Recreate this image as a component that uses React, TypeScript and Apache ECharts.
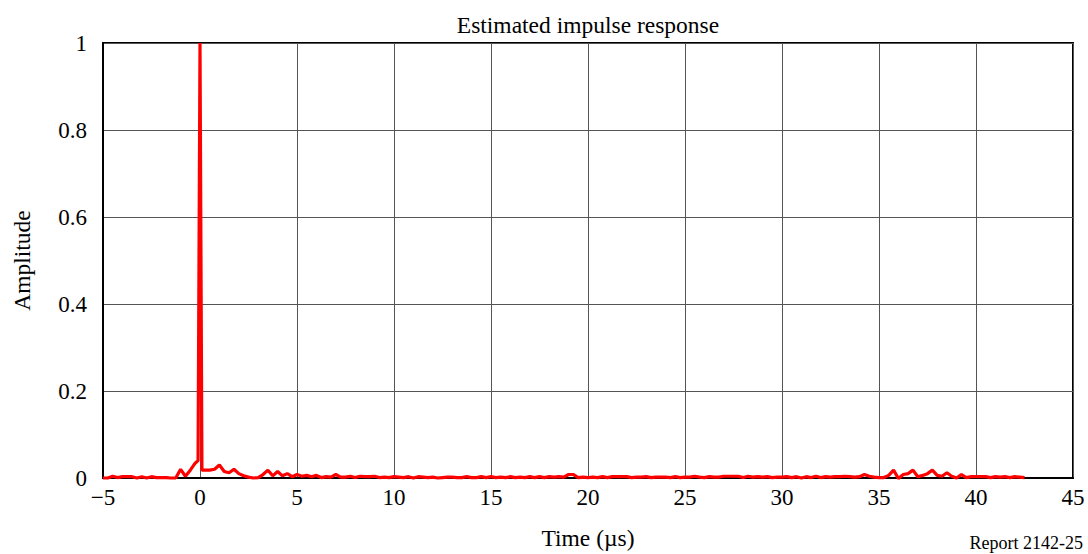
import React, { useEffect, useRef } from "react";
import * as echarts from "echarts";

const chartTitle = "Estimated impulse response";
const xAxisName = "Time (\u00b5s)";
const yAxisName = "Amplitude";
const reportLabel = "Report 2142-25";

const xTicks = [-5, 0, 5, 10, 15, 20, 25, 30, 35, 40, 45];
const yTicks = [0, 0.2, 0.4, 0.6, 0.8, 1];

// regular record, sampled every 0.25 µs starting at -5 µs
const recordStart = -5;
const recordStep = 0.25;
const amplitude = [
  // -5 .. -0.25
  0, 0, 0.004, 0.001, 0.003, 0.003, 0.003, 0, 0.003, 0, 0.003, 0.001, 0.001, 0.001, 0, 0, 0.02, 0.004, 0.018, 0.034,
  // 0 .. 4.75
  1.0, 0.018, 0.018, 0.02, 0.03, 0.015, 0.012, 0.02, 0.01, 0.005, 0.002, 0, 0.001, 0.008, 0.018, 0.005, 0.015, 0.005, 0.01, 0.003,
  // 5 .. 9.75
  0.008, 0.004, 0.006, 0.003, 0.006, 0.001, 0.003, 0.002, 0.008, 0.002, 0.002, 0.004, 0.001, 0.004, 0.003, 0.003, 0.004, 0.001, 0.002, 0.001,
  // 10 .. 14.75
  0.003, 0.002, 0.001, 0.003, 0, 0.003, 0.002, 0.001, 0.002, 0, 0.001, 0.002, 0.002, 0.001, 0.001, 0.003, 0.001, 0.001, 0.003, 0.001,
  // 15 .. 19.75
  0.003, 0.001, 0.002, 0.001, 0.003, 0.001, 0.002, 0.001, 0.003, 0.001, 0.003, 0.001, 0.003, 0.002, 0.003, 0.002, 0.008, 0.008, 0.001, 0.002,
  // 20 .. 24.75
  0.001, 0.002, 0.001, 0.003, 0.001, 0.003, 0.003, 0.003, 0.003, 0.001, 0.002, 0.002, 0.003, 0.001, 0.002, 0.002, 0.002, 0.001, 0.003, 0.001,
  // 25 .. 29.75
  0.002, 0.002, 0.004, 0.002, 0.001, 0.003, 0.002, 0.002, 0.004, 0.004, 0.004, 0.004, 0.001, 0.004, 0.002, 0.003, 0.002, 0.003, 0.001, 0.002,
  // 30 .. 34.75
  0.002, 0.003, 0.001, 0.003, 0, 0.003, 0.001, 0.004, 0.001, 0.003, 0.002, 0.003, 0.003, 0.004, 0.003, 0.002, 0.003, 0.008, 0.004, 0.002,
  // 35 .. 39.75
  0.001, 0.001, 0.006, 0.018, -0.001, 0.008, 0.01, 0.018, 0.003, 0.006, 0.01, 0.018, 0.006, 0.004, 0.012, 0.004, 0, 0.008, 0.001, 0.003,
  // 40 .. 42.5
  0.003, 0.003, 0.003, 0.001, 0.003, 0.002, 0.003, 0.001, 0.003, 0.002, 0.001,
];

// extra samples on the flanks of the main peak
const peakTimes = [-0.1, 0.1];
const peakValues = [0.04, 0.018];

const FONT = "Liberation Serif";

export default function App() {
  const ref = useRef<HTMLDivElement>(null);

  useEffect(() => {
    if (!ref.current) return;
    const chart = echarts.init(ref.current, undefined, { renderer: "svg" });

    const pts: [number, number][] = amplitude.map((v, i) => [recordStart + i * recordStep, v]);
    peakTimes.forEach((t, i) => pts.push([t, peakValues[i]]));
    pts.sort((a, b) => a[0] - b[0]);

    const gridLeft = 103;
    const gridRight = 15;
    const gridTop = 43;
    const gridBottom = 76;
    const plotCenterX = gridLeft + (1088 - gridLeft - gridRight) / 2;

    chart.setOption({
      animation: false,
      backgroundColor: "#ffffff",
      textStyle: { fontFamily: FONT },
      grid: {
        left: gridLeft,
        right: gridRight,
        top: gridTop,
        bottom: gridBottom,
        containLabel: false,
        outerBoundsMode: "none",
        show: true,
        borderColor: "#000",
        borderWidth: 2,
        backgroundColor: "transparent",
      },
      graphic: [
        {
          type: "text",
          x: plotCenterX,
          y: 25,
          style: {
            text: chartTitle,
            fontFamily: FONT,
            fontSize: 23.5,
            fill: "#000",
            align: "center",
            verticalAlign: "middle",
          },
        },
        {
          type: "text",
          x: 1083,
          y: 543,
          style: {
            text: reportLabel,
            fontFamily: FONT,
            fontSize: 18,
            fill: "#000",
            align: "right",
            verticalAlign: "middle",
          },
        },
      ],
      xAxis: {
        type: "value",
        min: xTicks[0],
        max: xTicks[xTicks.length - 1],
        interval: 5,
        name: xAxisName,
        nameLocation: "middle",
        nameGap: 48,
        nameTextStyle: { fontFamily: FONT, fontSize: 23.5, color: "#000" },
        axisLine: { show: true, onZero: false, lineStyle: { color: "#000", width: 2 } },
        axisTick: { show: false },
        axisLabel: {
          fontFamily: FONT,
          fontSize: 23,
          color: "#000",
          margin: 8,
          formatter: (v: number) => String(v).replace("-", "\u2212"),
        },
        splitLine: { show: true, lineStyle: { color: "#555", width: 1 } },
      },
      yAxis: {
        type: "value",
        min: yTicks[0],
        max: yTicks[yTicks.length - 1],
        interval: 0.2,
        name: yAxisName,
        nameLocation: "middle",
        nameGap: 69,
        nameRotate: 90,
        nameTextStyle: { fontFamily: FONT, fontSize: 23.5, color: "#000" },
        axisLine: { show: true, onZero: false, lineStyle: { color: "#000", width: 2 } },
        axisTick: { show: false },
        axisLabel: { fontFamily: FONT, fontSize: 23, color: "#000", margin: 16 },
        splitLine: { show: true, lineStyle: { color: "#555", width: 1 } },
      },
      series: [
        {
          type: "line",
          data: pts,
          showSymbol: false,
          symbol: "none",
          clip: false,
          lineStyle: { color: "#ff0000", width: 3.2 },
          z: 5,
        },
      ],
    });

    return () => chart.dispose();
  }, []);

  return (
    <div
      ref={ref}
      style={{ position: "fixed", left: 0, top: 0, width: 1088, height: 554 }}
    />
  );
}
